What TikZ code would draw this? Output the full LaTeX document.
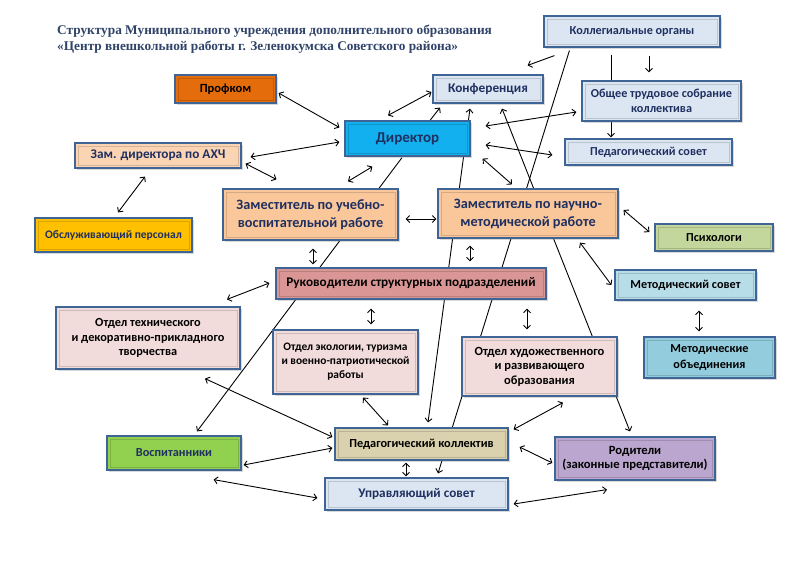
\documentclass[tikz,border=0pt]{standalone}
\usepackage{fontspec}
\setmainfont{Carlito}
\newfontfamily\titlefont{Liberation Serif}
\usetikzlibrary{arrows.meta,shadows,backgrounds}

\definecolor{boxline}{HTML}{3F6496}
\definecolor{txt}{HTML}{1F3060}
\definecolor{ttl}{HTML}{2F4369}
\definecolor{lblue}{HTML}{DCE6F2}
\definecolor{prof}{HTML}{E46C0A}
\definecolor{cyanbox}{HTML}{12B0EE}
\definecolor{peach}{HTML}{FBD4B4}
\definecolor{zam}{HTML}{FAC79A}
\definecolor{gold}{HTML}{FFC000}
\definecolor{olive}{HTML}{C3D69B}
\definecolor{rose}{HTML}{DA9694}
\definecolor{sky}{HTML}{B7DDE8}
\definecolor{pink}{HTML}{F2DCDB}
\definecolor{teal}{HTML}{93CDDD}
\definecolor{lgreen}{HTML}{92D050}
\definecolor{tan}{HTML}{DAD2AE}
\definecolor{lilac}{HTML}{BAA6CE}

\tikzset{
  orgbox/.style={draw=boxline, line width=1.2pt, fill=#1, text=txt, align=center,
    inner sep=1pt, font=\bfseries\fontsize{12}{14}\selectfont,
    drop shadow={opacity=.3, shadow xshift=2pt, shadow yshift=-2pt},
    path picture={\draw[black, opacity=.15, line width=.8pt]
      ([shift={(3pt,-3pt)}]path picture bounding box.north west) rectangle
      ([shift={(-3pt,3pt)}]path picture bounding box.south east);}},
  wh/.style 2 args={minimum width=#1pt, minimum height=#2pt},
  fs/.style 2 args={font=\bfseries\fontsize{#1}{#2}\selectfont},
  link/.style={line width=.9pt},
  >={Straight Barb[length=3.5pt,width=7pt]}
}

\begin{document}
\begin{tikzpicture}[x=1pt, y=-1pt]
\useasboundingbox (0,0) rectangle (800,566);
% Title
\node[anchor=base west, inner sep=0pt, text=ttl, font=\titlefont\bfseries\fontsize{13.3}{16}\selectfont] (title) at (57,34)
  {Структура Муниципального учреждения дополнительного образования};
\node[anchor=base west, inner sep=0pt, text=ttl, font=\titlefont\bfseries\fontsize{13.3}{16}\selectfont] (subtitle) at (57,50)
  {«Центр внешкольной работы г. Зеленокумска Советского района»};

% Boxes
\node[orgbox=lblue, wh={176}{31}, fs={12.2}{14}] (kol) at (632,31.5) {Коллегиальные органы};
\node[orgbox=prof, wh={101}{28}, text=black, fs={12.5}{14}] (prof) at (225.5,89) {Профком};
\node[orgbox=lblue, wh={110}{28}, fs={13.3}{15}] (konf) at (488,89) {Конференция};
\node[orgbox=lblue, wh={159}{40}, fs={12.2}{15}] (obsh) at (661.5,101) {Общее трудовое собрание\\коллектива};
\node[orgbox=cyanbox, wh={125}{35}, fs={15}{17}] (dir) at (407.5,138.5) {Директор};
\node[orgbox=lblue, wh={167}{26}, fs={12.2}{14}] (ped) at (648.5,152) {Педагогический совет};
\node[orgbox=peach, wh={166}{25}, fs={13.3}{14}] (ahch) at (158,155.5) {Зам. директора по АХЧ};
\node[orgbox=zam, wh={175}{51}, fs={14.3}{18}] (uvr) at (310.5,214.5) {Заместитель по учебно-\\воспитательной работе};
\node[orgbox=zam, wh={180}{49}, fs={14.3}{18}] (nmr) at (528,213.5) {Заместитель по научно-\\методической работе};
\node[orgbox=gold, wh={157}{34}, fs={11.5}{14}] (obsl) at (113.5,235) {Обслуживающий персонал};
\node[orgbox=olive, wh={118}{27}, text=black, fs={12.2}{14}] (psy) at (714,237.5) {Психологи};
\node[orgbox=rose, wh={270}{31}, text=black, fs={13.2}{15}] (ruk) at (411,283.5) {Руководители структурных подразделений};
\node[orgbox=sky, wh={141}{30}, text=black, fs={12.2}{14}] (msov) at (685.5,285) {Методический совет};
\node[orgbox=pink, wh={184}{62}, text=black, fs={12.3}{14.5}] (tech) at (148,338) {Отдел технического\\и декоративно-прикладного\\творчества};
\node[orgbox=pink, wh={145}{64}, text=black, fs={11.4}{14}] (eco) at (345.5,362) {Отдел экологии, туризма\\и военно-патриотической\\работы};
\node[orgbox=pink, wh={155}{59}, text=black, fs={12.5}{14.5}] (hud) at (539.5,366.5) {Отдел художественного\\и развивающего\\образования};
\node[orgbox=teal, wh={131}{41}, text=black, fs={12.2}{16}] (mo) at (709.5,357.5) {Методические\\объединения};
\node[orgbox=lgreen, wh={134}{34}, fs={12.3}{14}] (vosp) at (174,453) {Воспитанники};
\node[orgbox=tan, wh={173}{32}, text=black, fs={12.3}{14}] (pk) at (421.5,444) {Педагогический коллектив};
\node[orgbox=lilac, wh={160}{43}, text=black, fs={12.6}{14}] (rod) at (635,458.5) {Родители\\(законные представители)};
\node[orgbox=lblue, wh={183}{32}, fs={13.2}{15}] (us) at (416.5,494) {Управляющий совет};

% Links
\begin{scope}[on background layer]
\draw[link, <->] ([shift={(2,4)}]prof.east) -- ([shift={(-5,-11)}]dir.west);
\draw[link, <->] ([shift={(9,1.5)}]ahch.east) -- ([shift={(-5,3.5)}]dir.west);
\draw[link, <->] ([shift={(4,-5)}]ahch.south east) -- ([shift={(54,-9)}]uvr.north west);
\draw[link, <->] ([shift={(-13,8)}]ahch.south) -- ([shift={(4.5,-5)}]obsl.north);
\draw[link, <->] ([shift={(-19.5,-5)}]dir.north) -- ([shift={(-1,3)}]konf.west);
\draw[link, ->] ([shift={(22.5,0)}]dir.north) -- ([shift={(-48,4)}]konf.south);
\draw[link, ->] ([shift={(11,8)}]kol.south west) -- ([shift={(-16,-9)}]konf.north east);
\draw[link, ->] ([shift={(17,8)}]kol.south) -- ([shift={(-12.5,-8)}]obsh.north);
\draw[link, ->] ([shift={(-21,7)}]kol.south) -- ([shift={(-37.5,-1)}]ped.north);
\draw[link, ->] ([shift={(26,3)}]kol.south west) -- ([shift={(21.5,-4)}]us.north);
\draw[link, <->] ([shift={(-18,5)}]konf.south) -- ([shift={(6.5,-5)}]pk.north);
\draw[link, <->] ([shift={(14,5)}]konf.south) -- ([shift={(-5,-5)}]rod.north);
\draw[link, ->] ([shift={(-5.5,1)}]dir.south) -- ([shift={(23,-4)}]vosp.north);
\draw[link, <->] ([shift={(15,-12.5)}]dir.east) -- ([shift={(-5,11)}]obsh.west);
\draw[link, <->] ([shift={(15,6.5)}]dir.east) -- ([shift={(-12,3)}]ped.west);
\draw[link, <->] ([shift={(12,2)}]dir.south east) -- ([shift={(-16,-4)}]nmr.north);
\draw[link, <->] ([shift={(28,10)}]dir.south west) -- ([shift={(37.5,-7)}]uvr.north);
\draw[link, <->] ([shift={(7,4.5)}]uvr.east) -- ([shift={(-1,5.5)}]nmr.west);
\draw[link, <->] ([shift={(5,-3.5)}]nmr.east) -- ([shift={(-5,-5.5)}]psy.west);
\draw[link, <->] ([shift={(52,4)}]nmr.south) -- ([shift={(-3,0)}]msov.west);
\draw[link, <->] ([shift={(13.5,10)}]msov.south) -- ([shift={(-10.5,-5)}]mo.north);
\draw[link, <->] ([shift={(2.5,8)}]uvr.south) -- ([shift={(-98,-3)}]ruk.north);
\draw[link, <->] ([shift={(-58,7)}]nmr.south) -- ([shift={(59,-6)}]ruk.north);
\draw[link, <->] ([shift={(-40,9)}]ruk.south) -- ([shift={(25.5,-5)}]eco.north);
\draw[link, <->] ([shift={(116,9)}]ruk.south) -- ([shift={(-12.5,-7)}]hud.north);
\draw[link, <->] ([shift={(79,-7)}]tech.north) -- ([shift={(-6,-0.5)}]ruk.west);
\draw[link, <->] ([shift={(57,9)}]tech.south) -- ([shift={(-2,-7)}]pk.west);
\draw[link, <->] ([shift={(17.5,3)}]eco.south) -- ([shift={(-33.5,-2)}]pk.north);
\draw[link, <->] ([shift={(23.5,6)}]hud.south) -- ([shift={(5,2)}]pk.north east);
\draw[link, <->] ([shift={(2,12)}]vosp.east) -- ([shift={(-2,4)}]pk.west);
\draw[link, <->] ([shift={(11,3)}]pk.east) -- ([shift={(-2,4.5)}]rod.west);
\draw[link, <->] ([shift={(-15.5,2)}]pk.south) -- ([shift={(-10.5,-1)}]us.north);
\draw[link, <->] ([shift={(-28,9)}]vosp.south east) -- ([shift={(-7,4)}]us.west);
\draw[link, <->] ([shift={(-28,9)}]rod.south) -- ([shift={(5,10)}]us.east);
\end{scope}
\end{tikzpicture}
\end{document}
